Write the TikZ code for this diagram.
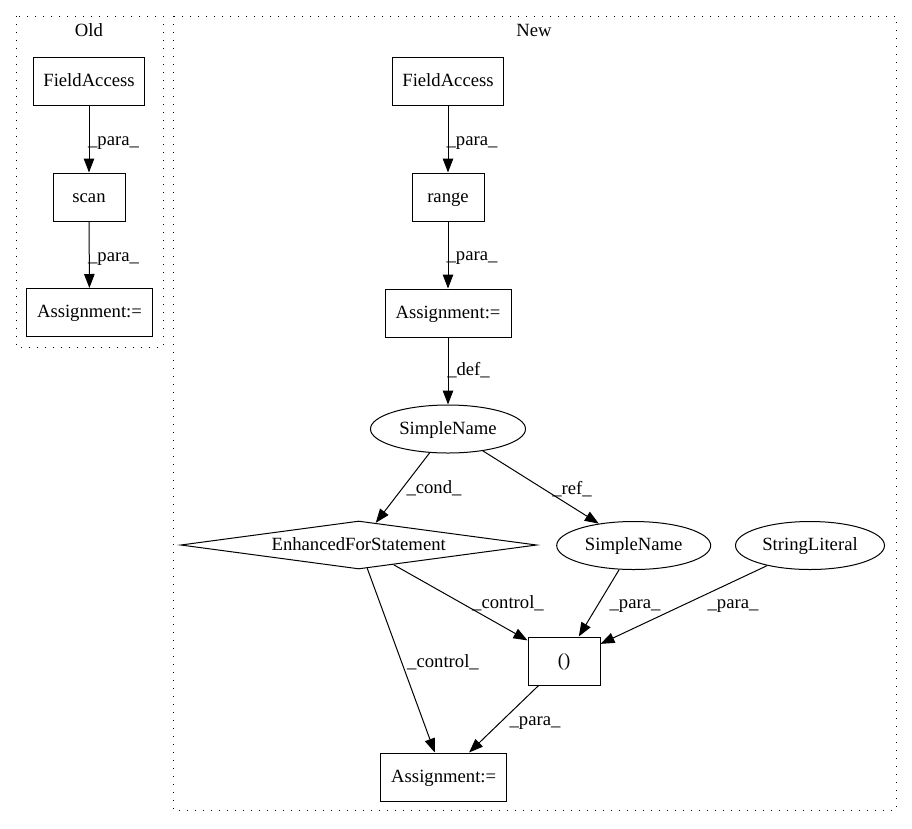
\documentclass[tikz,border=0pt]{standalone}
\usepackage{fontspec}
\setmainfont{Liberation Serif}
\usetikzlibrary{arrows.meta,shapes.geometric}
\newcommand{\gvfont}{\fontsize{18.67}{22}\selectfont}
\tikzset{
	gvtext/.style={font=\gvfont, text height=14pt, text depth=3.4pt},
	boxnode/.style={draw, line width=1pt, rectangle, minimum height=48pt, inner sep=0pt, gvtext},
	ovalnode/.style={draw, line width=1pt, ellipse, minimum height=48pt, inner sep=0pt, gvtext},
	condnode/.style={draw, line width=1pt, diamond, aspect=7.4, minimum width=356pt, minimum height=48pt, inner sep=0pt, gvtext},
	flow/.style={line width=1pt, -{Triangle[length=14pt,width=10.5pt]}},
	elabel/.style={inner sep=0pt, gvtext},
	cluster/.style={line width=1pt, dash pattern=on 1.3pt off 6.7pt},
}

\begin{document}
\begin{tikzpicture}[x=1pt, y=-1pt]
			%%%%% START %%%%%
			\useasboundingbox (0, 0) rectangle (912, 828);
			
			% clusters
			\draw[cluster] (16, 16) rectangle (163, 347);
			\node[elabel] (oldTitle) at (89, 31) {Old};
			\draw[cluster] (173, 16) rectangle (896, 810);
			\node[elabel] (newTitle) at (534, 31) {New};
			
			% old
			\node[boxnode, minimum width=111pt] (fieldOld) at (89, 81) {FieldAccess};
			\node[boxnode, minimum width=72pt] (scanOld) at (89, 197) {scan};
			\node[boxnode, minimum width=126pt] (assignOld) at (89.5, 312.5) {Assignment:=};
			
			\draw[flow] (fieldOld) -- (scanOld);
			\draw[flow] (scanOld) -- (assignOld);
			\node[elabel] (lblOldA) at (113.5, 140) {\_para\_};
			\node[elabel] (lblOldB) at (113.5, 256) {\_para\_};
			
			% new
			\node[boxnode, minimum width=111pt] (fieldNew) at (448, 81) {FieldAccess};
			\node[boxnode, minimum width=72pt] (rangeNew) at (448, 197) {range};
			\node[boxnode, minimum width=126pt] (assignNew) at (448, 313) {Assignment:=};
			\node[ovalnode, minimum width=155pt] (nameDef) at (448, 429) {SimpleName};
			\node[condnode] (forStmt) at (358.7, 545) {EnhancedForStatement};
			\node[ovalnode, minimum width=154pt] (nameRef) at (633.7, 545.5) {SimpleName};
			\node[ovalnode, minimum width=149pt] (strLit) at (810, 545.5) {StringLiteral};
			\node[boxnode, minimum width=72pt] (callExpr) at (564, 661) {()};
			\node[boxnode, minimum width=126pt] (assignEnd) at (443.7, 777) {Assignment:=};
			
			\draw[flow] (fieldNew) -- (rangeNew);
			\draw[flow] (rangeNew) -- (assignNew);
			\draw[flow] (assignNew) -- (nameDef);
			\draw[flow] (nameDef) -- (forStmt);
			\draw[flow] (nameDef) -- (nameRef);
			\draw[flow] (forStmt) -- (callExpr);
			\draw[flow] (forStmt) -- (assignEnd);
			\draw[flow] (nameRef) -- (callExpr);
			\draw[flow] (strLit) -- (callExpr);
			\draw[flow] (callExpr) -- (assignEnd);
			
			\node[elabel] (lblRange) at (472, 140) {\_para\_};
			\node[elabel] (lblAssign) at (472, 255) {\_para\_};
			\node[elabel] (lblDef) at (468.5, 370) {\_def\_};
			\node[elabel] (lblCond) at (434, 488) {\_cond\_};
			\node[elabel] (lblRef) at (572, 489) {\_ref\_};
			\node[elabel] (lblCtrlA) at (508, 603) {\_control\_};
			\node[elabel] (lblParaA) at (635, 603) {\_para\_};
			\node[elabel] (lblParaB) at (733, 603) {\_para\_};
			\node[elabel] (lblCtrlB) at (443, 662) {\_control\_};
			\node[elabel] (lblParaC) at (535, 720) {\_para\_};
			%%%%% END %%%%%
\end{tikzpicture}
\end{document}
